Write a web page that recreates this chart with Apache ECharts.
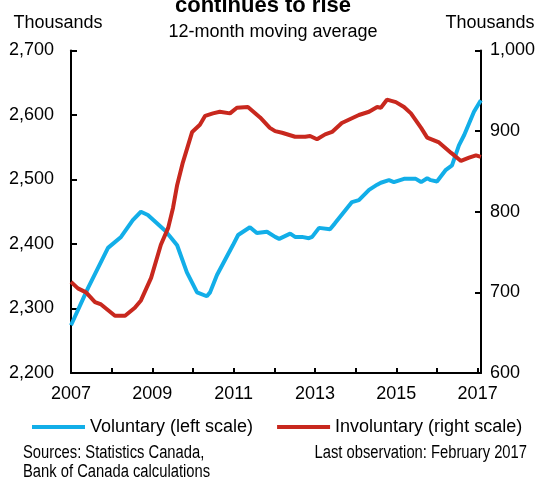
<!DOCTYPE html>
<html>
<head>
<meta charset="utf-8">
<script src="https://cdn.jsdelivr.net/npm/echarts@6/dist/echarts.min.js"></script>
<style>
html,body{margin:0;padding:0;background:#fff;}
#chart{width:547px;height:478px;}
</style>
</head>
<body>
<div id="chart"></div>
<script>
// Time positions are decimal years (Jan 2007 = 2007.00, Feb 2017 = 2017.08)
var voluntaryYears = [2007.00,2007.42,2007.91,2008.23,2008.52,2008.72,2008.89,2009.31,2009.43,2009.61,2009.85,2010.10,2010.34,2010.42,2010.59,2010.98,2011.11,2011.40,2011.57,2011.82,2012.02,2012.12,2012.39,2012.51,2012.68,2012.85,2012.93,2013.10,2013.37,2013.49,2013.91,2014.08,2014.33,2014.53,2014.62,2014.82,2014.94,2015.19,2015.48,2015.61,2015.76,2015.85,2016.00,2016.22,2016.37,2016.54,2016.67,2016.91,2017.08];
var voluntaryValues = [2274,2332,2394,2411,2437,2450,2445,2421,2412,2398,2356,2325,2319,2325,2352,2398,2414,2426,2417,2419,2411,2408,2416,2411,2411,2409,2411,2425,2423,2432,2465,2468,2484,2492,2495,2499,2496,2501,2501,2496,2502,2499,2497,2515,2522,2553,2569,2605,2623];

var involuntaryYears = [2007.00,2007.17,2007.37,2007.59,2007.74,2008.08,2008.33,2008.57,2008.72,2008.97,2009.21,2009.39,2009.51,2009.61,2009.75,2009.98,2010.17,2010.30,2010.49,2010.66,2010.91,2011.08,2011.35,2011.65,2011.89,2012.02,2012.19,2012.51,2012.76,2012.88,2013.05,2013.25,2013.42,2013.66,2014.08,2014.33,2014.53,2014.62,2014.77,2014.99,2015.19,2015.36,2015.61,2015.76,2016.05,2016.35,2016.59,2016.79,2016.96,2017.08];
var involuntaryValues = [713,705,700,688,685,671,671,681,690,718,759,780,805,833,861,899,908,919,922,924,922,929,930,917,904,900,898,893,893,894,890,896,899,910,920,924,930,929,939,936,930,922,904,892,886,873,863,867,870,868];

var leftTicks = [2200, 2700, 100];
var rightTicks = [600, 1000, 100];
var xRange = [2007, 2017.083];

function pairs(xs, ys){ return xs.map(function(x,i){ return [x, ys[i]]; }); }
function fmtThousands(v){ return String(v).replace(/\B(?=(\d{3})+(?!\d))/g, ','); }

var FONT = 'Arial, "Liberation Sans", sans-serif';
var BLUE = '#12aee8';
var RED = '#c8281e';

var chart = echarts.init(document.getElementById('chart'), null, {renderer:'canvas'});
chart.setOption({
  animation:false,
  backgroundColor:'#fff',
  grid:{left:71, right:66, top:50.5, bottom:105, containLabel:false},
  xAxis:{
    type:'value', min:xRange[0], max:xRange[1], interval:1,
    axisLine:{lineStyle:{color:'#000', width:2}},
    axisTick:{inside:true, length:5, lineStyle:{color:'#000', width:2}},
    splitLine:{show:false},
    axisLabel:{
      color:'#000', fontSize:18, fontFamily:FONT, margin:12,
      formatter:function(v){
        var r = Math.round(v);
        if (Math.abs(v-r) > 1e-6) return '';
        return (r % 2 === 1) ? String(r) : '';
      }
    }
  },
  yAxis:[{
    type:'value', min:leftTicks[0], max:leftTicks[1], interval:leftTicks[2], position:'left',
    axisLine:{show:true, lineStyle:{color:'#000', width:2}},
    axisTick:{show:true, inside:true, length:6, lineStyle:{color:'#000', width:2}},
    splitLine:{show:false},
    axisLabel:{color:'#000', fontSize:18, fontFamily:FONT, margin:17, formatter:fmtThousands}
  },{
    type:'value', min:rightTicks[0], max:rightTicks[1], interval:rightTicks[2], position:'right',
    axisLine:{show:true, lineStyle:{color:'#000', width:2}},
    axisTick:{show:true, inside:true, length:6, lineStyle:{color:'#000', width:2}},
    splitLine:{show:false},
    axisLabel:{color:'#000', fontSize:18, fontFamily:FONT, margin:9, formatter:fmtThousands}
  }],
  legend:{
    left:27, top:413, itemWidth:53, itemHeight:4, itemGap:24,
    icon:'rect',
    textStyle:{color:'#000', fontSize:18, fontFamily:FONT},
    data:['Voluntary (left scale)','Involuntary (right scale)']
  },
  series:[{
    name:'Voluntary (left scale)', type:'line', yAxisIndex:0,
    data:pairs(voluntaryYears, voluntaryValues),
    showSymbol:false, symbol:'none', smooth:false,
    lineStyle:{color:BLUE, width:4}, itemStyle:{color:BLUE}
  },{
    name:'Involuntary (right scale)', type:'line', yAxisIndex:1,
    data:pairs(involuntaryYears, involuntaryValues),
    showSymbol:false, symbol:'none', smooth:false,
    lineStyle:{color:RED, width:4}, itemStyle:{color:RED}
  }],
  graphic:[
    {type:'text', x:263, y:6, style:{text:'continues to rise', font:'bold 22px '+FONT, fill:'#000', align:'center', verticalAlign:'middle'}},
    {type:'text', x:273, y:32, style:{text:'12-month moving average', font:'18px '+FONT, fill:'#000', align:'center', verticalAlign:'middle'}},
    {type:'text', x:58, y:23, style:{text:'Thousands', font:'18px '+FONT, fill:'#000', align:'center', verticalAlign:'middle'}},
    {type:'text', x:490, y:23, style:{text:'Thousands', font:'18px '+FONT, fill:'#000', align:'center', verticalAlign:'middle'}},
    {type:'text', x:23, y:453, scaleX:0.82, style:{text:'Sources: Statistics Canada,', font:'18px '+FONT, fill:'#000', align:'left', verticalAlign:'middle'}},
    {type:'text', x:23, y:472, scaleX:0.82, style:{text:'Bank of Canada calculations', font:'18px '+FONT, fill:'#000', align:'left', verticalAlign:'middle'}},
    {type:'text', x:527, y:453, scaleX:0.82, style:{text:'Last observation: February 2017', font:'18px '+FONT, fill:'#000', align:'right', verticalAlign:'middle'}}
  ]
});
</script>
</body>
</html>
